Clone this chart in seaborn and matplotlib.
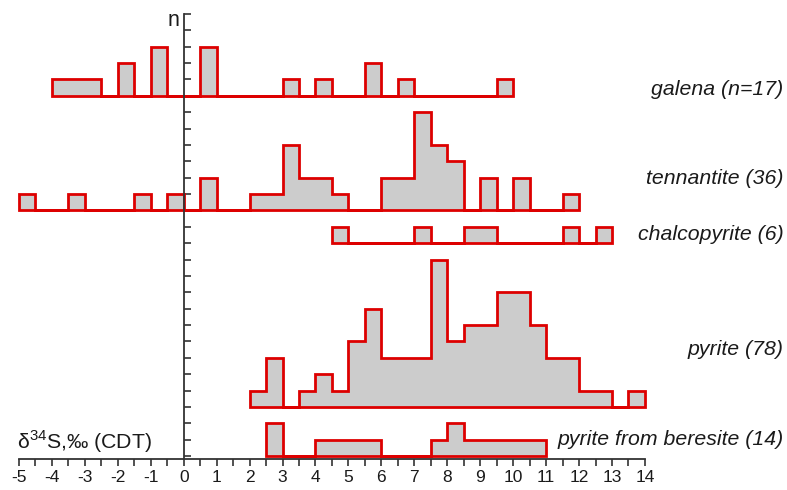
import numpy as np
import pandas as pd
import matplotlib
matplotlib.use('Agg')
import matplotlib.pyplot as plt
import matplotlib.transforms as mtransforms
import seaborn as sns

sns.set_style('white')
plt.rcParams['font.family'] = ['Liberation Sans', 'DejaVu Sans']
plt.rcParams['mathtext.fontset'] = 'custom'
plt.rcParams['mathtext.rm'] = 'Liberation Sans'

## Data: counts per 0.5 permil bin
galena_start = -4.0
galena_counts = [1, 1, 1, 0, 2, 0, 3, 0, 0, 3, 0, 0, 0, 0, 1, 0, 1, 0, 0, 2, 0, 1, 0, 0, 0, 0, 0, 1]

tennantite_start = -5.0
tennantite_counts = [1, 0, 0, 1, 0, 0, 0, 1, 0, 1, 0, 2, 0, 0, 1, 1, 4, 2, 2, 1, 0, 0, 2, 2, 6, 4, 3, 0, 2, 0, 2, 0, 0, 1]

chalcopyrite_start = 4.5
chalcopyrite_counts = [1, 0, 0, 0, 0, 1, 0, 0, 1, 1, 0, 0, 0, 0, 1, 0, 1]

pyrite_start = 2.0
pyrite_counts = [1, 3, 0, 1, 2, 1, 4, 6, 3, 3, 3, 9, 4, 5, 5, 7, 7, 5, 3, 3, 1, 1, 0, 1]

beresite_start = 2.5
beresite_counts = [2, 0, 0, 1, 1, 1, 1, 0, 0, 0, 1, 2, 1, 1, 1, 1, 1]

labels = ['galena (n=17)', 'tennantite (36)', 'chalcopyrite (6)', 'pyrite (78)', 'pyrite from beresite (14)']
starts = [galena_start, tennantite_start, chalcopyrite_start, pyrite_start, beresite_start]
counts_all = [galena_counts, tennantite_counts, chalcopyrite_counts, pyrite_counts, beresite_counts]

# vertical offsets of each histogram (in n units) and label heights
baselines = [22, 15, 13, 3, 0]
label_y = [22.36, 16.98, 13.56, 6.48, 0.98]

fig = plt.figure(figsize=(7.87, 4.90), dpi=100)
ax = fig.add_axes([0.0241, 0.0627, 0.7954, 0.9087])

for start, counts, base in zip(starts, counts_all, baselines):
    counts = np.array(counts, dtype=float)
    end = start + 0.5 * len(counts)
    df = pd.DataFrame({'d34S': start + 0.25 + 0.5 * np.arange(len(counts)), 'n': counts})
    shift = mtransforms.Affine2D().translate(0, base) + ax.transData
    sns.histplot(data=df, x='d34S', weights='n', binwidth=0.5, binrange=(start, end),
                 element='step', fill=True,
                 facecolor='#cccccc', edgecolor='#dd0000', linewidth=2,
                 joinstyle='miter', transform=shift, clip_on=False, ax=ax)

ax.set_xlim(-5, 14)
ax.set_ylim(-0.2, 27)
ax.set_xlabel('')
ax.set_ylabel('')

ax.spines['top'].set_visible(False)
ax.spines['right'].set_visible(False)
ax.spines['left'].set_position(('data', 0))
for s in ['left', 'bottom']:
    ax.spines[s].set_color('#333333')
    ax.spines[s].set_linewidth(1.3)

ax.set_xticks(np.arange(-5, 15, 1))
ax.set_xticks(np.arange(-4.5, 14, 1), minor=True)
ax.set_xticklabels([str(v) for v in range(-5, 15)])
ax.tick_params(axis='x', which='both', bottom=True, direction='out', length=5, width=1.2,
               color='#333333', labelsize=12.5, labelcolor='#1a1a1a', pad=3)
for lbl in ax.get_xticklabels():
    lbl.set_fontfamily(['Liberation Sans Narrow', 'Liberation Sans', 'DejaVu Sans'])

ax.set_yticks(np.arange(0, 28, 1))
ax.tick_params(axis='y', left=True, direction='in', length=5, width=1.2,
               color='#333333', labelleft=False)

for lab, y in zip(labels, label_y):
    ax.text(18.2, y, lab, ha='right', va='center', fontsize=15.3, style='italic',
            color='#1a1a1a', clip_on=False)

ax.text(-5.05, 0.87, 'δ$^{34}$S,‰ (CDT)', ha='left', va='center', fontsize=15.3, color='#1a1a1a')
ax.text(-0.3, 26.6, 'n', ha='center', va='center', fontsize=15.5, color='#1a1a1a')

plt.savefig('out.png', dpi=100)
